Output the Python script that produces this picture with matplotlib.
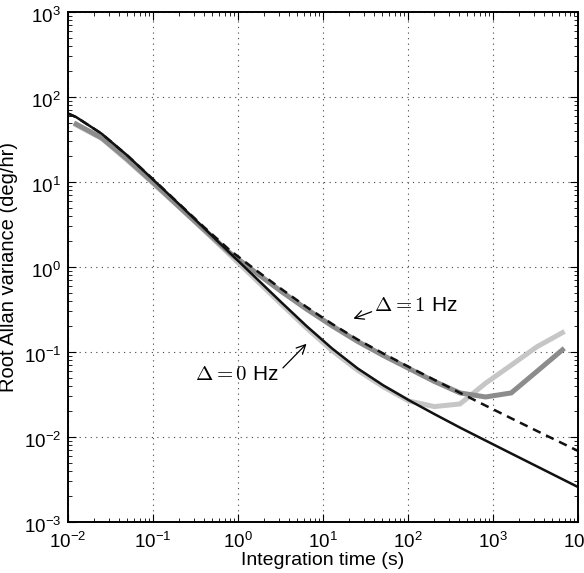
import numpy as np
import matplotlib
matplotlib.use('Agg')
import matplotlib.pyplot as plt
import matplotlib.transforms as mtransforms

plt.rcParams['font.family'] = ['Liberation Sans', 'DejaVu Sans']
plt.rcParams['axes.unicode_minus'] = True

# measured integration times (s)
tau_meas = [0.0125, 0.025, 0.05, 0.1, 0.2, 0.4, 0.8, 1.6, 3.2, 6.4, 12.8, 25.6,
            51.2, 102.4, 204.8, 409.6, 819.2, 1638.4, 3276.8, 6553.6]
# measured, 0 Hz (light grey)
meas_0hz = [47, 32.5, 18, 9.7, 5.15, 2.7, 1.4, 0.72, 0.37, 0.192, 0.104, 0.061,
            0.039, 0.0265, 0.0228, 0.0245, 0.043, 0.070, 0.115, 0.169]
# measured, 1 Hz (dark grey)
meas_1hz = [48, 33, 18.5, 9.9, 5.2, 2.75, 1.47, 0.87, 0.52, 0.32, 0.203, 0.133,
            0.091, 0.064, 0.045, 0.033, 0.0296, 0.033, 0.059, 0.106]

# model curves
tau_model = [0.01, 0.0125, 0.025, 0.05, 0.1, 0.2, 0.4, 0.8, 1.6, 3.2, 6.4, 12.8,
             25.6, 51.2, 102.4, 204.8, 409.6, 819.2, 1638.4, 3276.8, 6553.6, 10000]
model_0hz = [64, 58, 36.9, 20.5, 10.7, 5.56, 2.86, 1.47, 0.755, 0.388, 0.202, 0.110,
             0.064, 0.0405, 0.0271, 0.0186, 0.0129, 0.00908, 0.0064, 0.00452, 0.00319, 0.00258]
model_1hz = [64, 58, 36.9, 20.5, 10.8, 5.62, 2.94, 1.58, 0.93, 0.556, 0.339, 0.214,
             0.140, 0.096, 0.0668, 0.047, 0.0331, 0.0234, 0.0166, 0.0118, 0.00843, 0.00686]

fig = plt.figure(figsize=(5.84, 5.73), dpi=100)
ax = fig.add_axes([0.1164, 0.089, 0.8733, 0.890])

ax.loglog(tau_meas, meas_0hz, color='#c6c6c6', lw=3.6, solid_joinstyle='miter')
ax.loglog(tau_meas, meas_1hz, color='#8c8c8c', lw=3.6, solid_joinstyle='miter')
ax.loglog(tau_model, model_0hz, color='#111111', lw=1.8)
ax.loglog(tau_model, model_1hz, color='#111111', lw=1.8, ls=(0, (3.4, 2.4)))

ax.set_xlim(1e-2, 1e4)
ax.set_ylim(1e-3, 1e3)
ax.grid(True, which='major', ls=(0, (1, 4)), color='#444444', lw=0.8)
ax.tick_params(which='both', direction='in', top=True, right=True, labelsize=13.5)
ax.tick_params(axis='x', which='major', pad=7)
ax.tick_params(axis='y', which='major', pad=5)
ax.tick_params(which='major', length=6, width=0.8)
ax.tick_params(which='minor', length=3, width=0.6)
for s in ax.spines.values():
    s.set_linewidth(1.4)

# MATLAB-style: mantissa sits a little below the tick
shift = mtransforms.ScaledTranslation(0, -2 / 72, fig.dpi_scale_trans)
for lbl in ax.get_yticklabels():
    lbl.set_transform(lbl.get_transform() + shift)

ax.set_xlabel('Integration time (s)', fontsize=14, labelpad=0)
ax.set_ylabel('Root Allan variance (deg/hr)', fontsize=14.5)
ax.yaxis.set_label_coords(-0.098, 0.5)

arrow = dict(arrowstyle='->', color='black', lw=0.9, shrinkA=0, shrinkB=0, mutation_scale=16)
ax.text(0.96, 0.054, r'$\Delta = 0$ Hz', fontsize=15, ha='center', va='center',
        math_fontfamily='cm')
ax.annotate('', xy=(6.4, 0.125), xytext=(3.38, 0.065), arrowprops=arrow)
ax.text(124, 0.357, r'$\Delta = 1$ Hz', fontsize=15, ha='center', va='center',
        math_fontfamily='cm')
ax.annotate('', xy=(22.8, 0.247), xytext=(37.4, 0.298), arrowprops=arrow)

fig.savefig('out.png', dpi=100)
